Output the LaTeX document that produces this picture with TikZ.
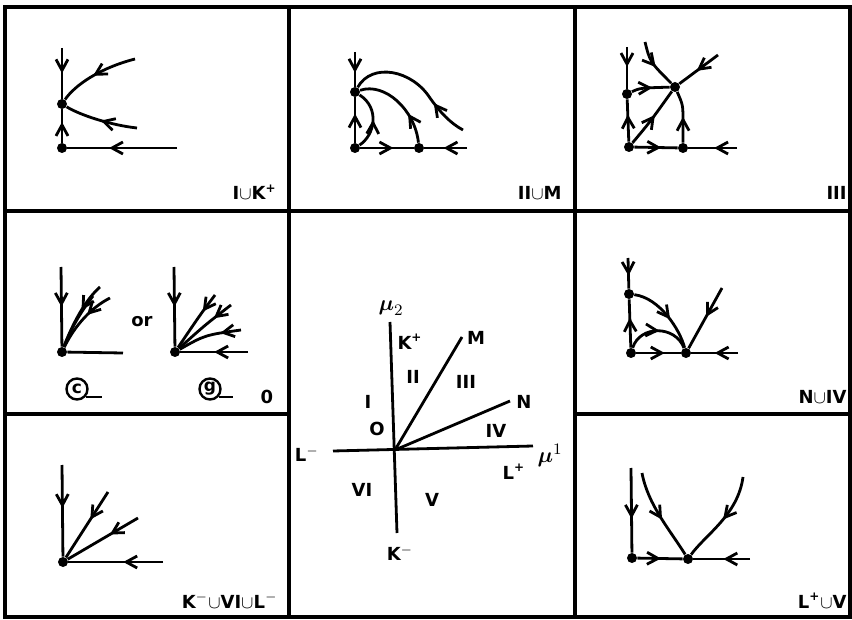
\documentclass[tikz,border=0pt]{standalone}
\usepackage{amsmath}
\usepackage{fontspec}
\setmainfont{DejaVu Sans}
\usetikzlibrary{arrows.meta,decorations.markings}
\tikzset{
  ln/.style={line width=1.4pt},
  frameline/.style={line width=2pt},
  dot/.style={circle,fill,inner sep=0pt,minimum size=5pt},
  ma/.style={postaction={decorate,decoration={markings,
      mark=at position #1 with {\arrow{Straight Barb[length=5.5pt,width=6pt]}}}}},
  lab/.style={font=\bfseries\fontsize{9}{10}\selectfont,inner sep=0pt},
  circ/.style={circle,draw,line width=1.2pt,inner sep=0pt,minimum size=10.5pt,
      font=\bfseries\fontsize{8.5}{8.5}\selectfont},
}
\begin{document}
\begin{tikzpicture}[x=0.5pt,y=-0.5pt]
\useasboundingbox (0,0) rectangle (852,620);
% frame
\draw[frameline] (5,7) rectangle (850,617);
\draw[frameline] (289,7) -- (289,617);
\draw[frameline] (575,7) -- (575,617);
\draw[frameline] (5,211) -- (850,211);
\draw[frameline] (5,414) -- (289,414);
\draw[frameline] (575,414) -- (850,414);

% ---- cell I u K+
\node[dot] (a0) at (62,148) {};
\node[dot] (a1) at (62,104) {};
\coordinate (a2) at (62,48);
\coordinate (a3) at (177,148);
\coordinate (a4) at (135,59);
\coordinate (a5) at (137,128);
\draw[ln,ma=0.5] (a2) -- (a1);
\draw[ln,ma=0.62] (a0) -- (a1);
\draw[ln,ma=0.62] (a3) -- (a0);
\draw[ln,ma=0.55] (a4) .. controls (100,68) and (75,85) .. (a1);
\draw[ln,ma=0.5] (a5) .. controls (110,125) and (80,115) .. (a1);
\node[lab,anchor=base east] (la) at (277,200) {I$\cup$K\textsuperscript{+}};

% ---- cell II u M
\node[dot] (b0) at (355,148) {};
\node[dot] (b1) at (355,92) {};
\node[dot] (b2) at (419,148) {};
\coordinate (b3) at (355,52);
\coordinate (b4) at (467,148);
\coordinate (b5) at (463,130);
\draw[ln,ma=0.6] (b3) -- (b1);
\draw[ln,ma=0.64] (b0) -- (b1);
\draw[ln,ma=0.62] (b0) -- (b2);
\draw[ln,ma=0.55] (b4) -- (b2);
\draw[ln,ma=0.5] (b0) .. controls (375,135) and (380,108) .. (b1);
\draw[ln,ma=0.35] (b2) .. controls (415,110) and (385,82) .. (b1);
\draw[ln,ma=0.3] (b5) .. controls (450,123) and (440,112) .. (430,98)
   .. controls (412,70) and (372,62) .. (b1);
\node[lab,anchor=base east] (lb) at (562,200) {II$\cup$M};

% ---- cell III
\node[dot] (c0) at (629,147) {};
\node[dot] (c1) at (627,94) {};
\node[dot] (c2) at (683,148) {};
\node[dot] (c3) at (675,87) {};
\coordinate (c4) at (627,47);
\coordinate (c5) at (737,148);
\coordinate (c6) at (645,42);
\coordinate (c7) at (718,55);
\coordinate (c8) at (683,122);
\draw[ln,ma=0.48] (c4) -- (c1);
\draw[ln,ma=0.64] (c0) -- (c1);
\draw[ln,ma=0.62] (c0) -- (c2);
\draw[ln,ma=0.47] (c5) -- (c2);
\draw[ln,ma=0.55] (c1) .. controls (640,88) .. (c3);
\draw[ln,ma=0.55] (c0) .. controls (650,122) .. (c3);
\draw[ln,ma=0.5] (c2) -- (c8) .. controls (683,105) .. (c3);
\draw[ln,ma=0.55] (c6) .. controls (650,62) .. (c3);
\draw[ln,ma=0.55] (c7) -- (c3);
\node[lab,anchor=base east] (lc) at (847,200) {III};

% ---- cell 0
\node[dot] (d0) at (62,352) {};
\coordinate (d1) at (61,267);
\coordinate (d2) at (123,353);
\coordinate (d3) at (100,287);
\coordinate (d4) at (110,298);
\coordinate (d5) at (93,296);
\draw[ln,ma=0.5] (d1) -- (d0);
\draw[ln] (d0) -- (d2);
\draw[ln,ma=0.42] (d3) .. controls (85,300) and (72,325) .. (d0);
\draw[ln,ma=0.42] (d4) .. controls (92,307) and (75,325) .. (d0);
\draw[ln] (d5) .. controls (82,310) and (70,330) .. (d0);
\node[lab] (or) at (142,322) {or};
\node[dot] (h0) at (175,352) {};
\coordinate (h1) at (174,267);
\coordinate (h2) at (248,352);
\coordinate (h3) at (215,295);
\coordinate (h4) at (231,305);
\coordinate (h5) at (241,330);
\draw[ln,ma=0.5] (h1) -- (h0);
\draw[ln,ma=0.5] (h2) -- (h0);
\draw[ln,ma=0.32] (h3) .. controls (200,315) .. (h0);
\draw[ln,ma=0.32] (h4) .. controls (205,325) .. (h0);
\draw[ln,ma=0.32] (h5) .. controls (205,335) .. (h0);
\node[circ] (cc) at (77,389) {c};
\coordinate (cd) at (102,396);
\draw[line width=1pt] (cc.-40) -- (cc.-40 -| cd);
\node[circ] (cg) at (210,389) {g};
\coordinate (gd) at (233,396);
\draw[line width=1pt] (cg.-40) -- (cg.-40 -| gd);
\node[lab,anchor=base] (l0) at (267,404) {0};

% ---- middle cell
\coordinate (o) at (395,450);
\coordinate (k1) at (390,322);
\coordinate (k2) at (397,533);
\coordinate (l1) at (333,451);
\coordinate (l2) at (533,446);
\coordinate (m) at (462,337);
\coordinate (n) at (510,401);
\draw[ln] (k1) -- (k2);
\draw[ln] (l1) -- (l2);
\draw[ln] (o) -- (m);
\draw[ln] (o) -- (n);
\node[font=\fontsize{11}{11}\selectfont,inner sep=0pt] (mu2) at (391,308) {$\boldsymbol{\mu}_2$};
\node[font=\fontsize{11}{11}\selectfont,inner sep=0pt] (mu1) at (550,455) {$\boldsymbol{\mu}^1$};
\node[lab] (tK1) at (410,342) {K\textsuperscript{+}};
\node[lab] (tM) at (476,338) {M};
\node[lab] (tII) at (413,377) {II};
\node[lab] (tIII) at (466,382) {III};
\node[lab] (tI) at (368,402) {I};
\node[lab] (tN) at (524,402) {N};
\node[lab] (tO) at (377,429) {O};
\node[lab] (tIV) at (496,431) {IV};
\node[lab] (tL1) at (307,454) {L$^-$};
\node[lab] (tL2) at (514,472) {L\textsuperscript{+}};
\node[lab] (tVI) at (362,490) {VI};
\node[lab] (tV) at (432,500) {V};
\node[lab] (tK2) at (400,553) {K$^-$};

% ---- cell N u IV
\node[dot] (e0) at (631,353) {};
\node[dot] (e1) at (629,294) {};
\node[dot] (e2) at (686,353) {};
\coordinate (e3) at (628,258);
\coordinate (e4) at (738,353);
\coordinate (e5) at (722,288);
\draw[ln,ma=0.58] (e3) -- (e1);
\draw[ln,ma=0.62] (e0) -- (e1);
\draw[ln,ma=0.64] (e0) -- (e2);
\draw[ln,ma=0.5] (e4) -- (e2);
\draw[ln,ma=0.58] (e1) .. controls (660,298) and (680,330) .. (e2);
\draw[ln,ma=0.52] (e0) .. controls (640,325) and (675,325) .. (e2);
\draw[ln,ma=0.48] (e5) -- (e2);
\node[lab,anchor=base east] (le) at (847,403) {N$\cup$IV};

% ---- cell K- u VI u L-
\node[dot] (f0) at (63,562) {};
\coordinate (f1) at (62,465);
\coordinate (f2) at (163,562);
\coordinate (f3) at (108,492);
\coordinate (f4) at (138,518);
\draw[ln,ma=0.47] (f1) -- (f0);
\draw[ln,ma=0.42] (f2) -- (f0);
\draw[ln,ma=0.42] (f3) -- (f0);
\draw[ln,ma=0.4] (f4) -- (f0);
\node[lab,anchor=base east] (lf) at (278,608) {K$^-$$\cup$VI$\cup$L$^-$};

% ---- cell L+ u V
\node[dot] (g0) at (632,558) {};
\node[dot] (g1) at (688,559) {};
\coordinate (g2) at (631,468);
\coordinate (g3) at (750,559);
\coordinate (g4) at (642,473);
\coordinate (g5) at (743,477);
\draw[ln,ma=0.6] (g2) -- (g0);
\draw[ln,ma=0.52] (g0) -- (g1);
\draw[ln,ma=0.47] (g3) -- (g1);
\draw[ln,ma=0.55] (g4) .. controls (648,505) and (670,530) .. (g1);
\draw[ln,ma=0.5] (g5) .. controls (738,515) and (705,535) .. (g1);
\node[lab,anchor=base east] (lg) at (847,608) {L\textsuperscript{+}$\cup$V};
\end{tikzpicture}
\end{document}
